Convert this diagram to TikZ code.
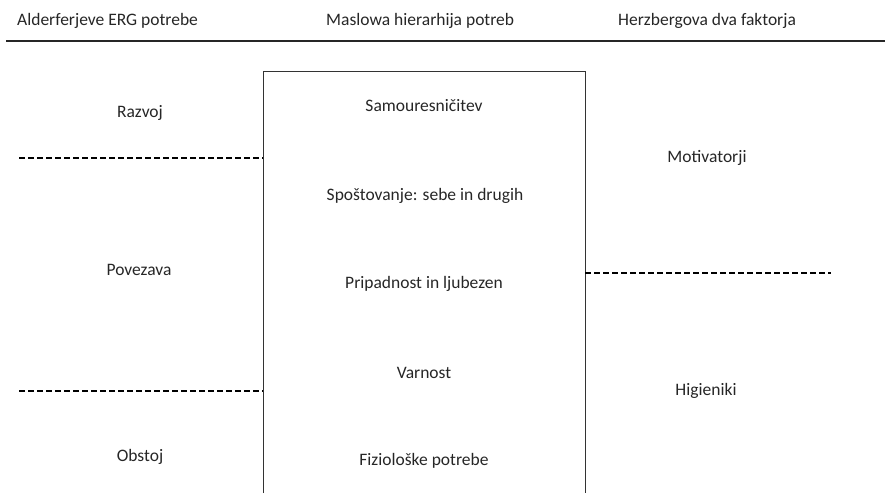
\documentclass[tikz,border=0pt]{standalone}
\usepackage{fontspec}
\setmainfont{Carlito}
\begin{document}
\begin{tikzpicture}[x=1pt,y=-1pt,
  lbl/.style={font=\fontsize{17.5}{20}\selectfont, text=black!85, inner sep=0pt, anchor=center},
  hdr/.style={lbl, anchor=base west},
  dashline/.style={line width=2.3pt, dash pattern=on 6pt off 3pt, black},
  boxline/.style={line width=0.9pt, black!80}]
\useasboundingbox (0,0) rectangle (885,493);
% header
\node[hdr] (h1) at (17,25) {Alderferjeve ERG potrebe};
\node[hdr] (h2) at (326,25) {Maslowa hierarhija potreb};
\node[hdr] (h3) at (618,25) {Herzbergova dva faktorja};
\coordinate (rl) at (6,41);
\coordinate (rr) at (885,41);
\draw[line width=2.2pt, black!85] (rl) -- (rr);
% box (open at bottom)
\coordinate (bl) at (263,493);
\coordinate (tl) at (263,71);
\coordinate (tr) at (585,71);
\coordinate (br) at (585,493);
\draw[boxline] (bl) -- (tl) -- (tr) -- (br);
% Maslow levels
\node[lbl] (m1) at (424,106) {Samouresničitev};
\node[lbl] (m2) at (425,196) {Spoštovanje: sebe in drugih};
\node[lbl] (m3) at (424,284) {Pripadnost in ljubezen};
\node[lbl] (m4) at (424,373) {Varnost};
\node[lbl] (m5) at (424,461) {Fiziološke potrebe};
% ERG
\node[lbl] (e1) at (140,113) {Razvoj};
\node[lbl] (e2) at (139,270) {Povezava};
\node[lbl] (e3) at (140,457) {Obstoj};
\coordinate (d1a) at (19,158);
\coordinate (d1b) at (263,158);
\coordinate (d2a) at (19,391);
\coordinate (d2b) at (263,391);
\draw[dashline] (d1a) -- (d1b);
\draw[dashline] (d2a) -- (d2b);
% Herzberg
\node[lbl] (z1) at (707,158) {Motivatorji};
\node[lbl] (z2) at (706,391) {Higieniki};
\coordinate (d3a) at (585,273);
\coordinate (d3b) at (831,273);
\draw[dashline] (d3a) -- (d3b);
\end{tikzpicture}
\end{document}
